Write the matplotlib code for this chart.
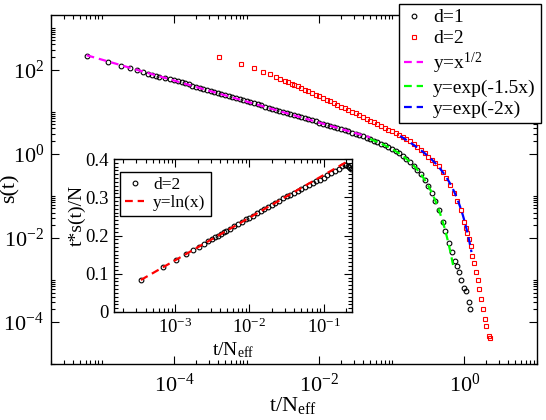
import numpy as np
import matplotlib
matplotlib.use('Agg')
import matplotlib.pyplot as plt
from matplotlib.ticker import NullFormatter, FixedLocator, MultipleLocator

plt.rcParams['font.family'] = ['Liberation Serif', 'DejaVu Serif']
plt.rcParams['mathtext.fontset'] = 'custom'
plt.rcParams['mathtext.rm'] = 'Liberation Serif'
plt.rcParams['mathtext.it'] = 'Liberation Serif:italic'
plt.rcParams['mathtext.bf'] = 'Liberation Serif:bold'

# ---------------- data ----------------
d1_x = [6.2e-6, 1.24e-5, 1.86e-5, 2.48e-5, 3.1e-5, 3.72e-5, 4.34e-5, 4.96e-5, 5.58e-5, 6.2e-5, 7.44e-5, 8.68e-5,
        1.000e-4, 1.122e-4, 1.259e-4, 1.413e-4, 1.585e-4, 1.778e-4, 1.995e-4, 2.239e-4, 2.512e-4, 2.818e-4,
        3.162e-4, 3.548e-4, 3.981e-4, 4.467e-4, 5.012e-4, 5.623e-4, 6.310e-4, 7.079e-4, 7.943e-4, 8.913e-4,
        1.000e-3, 1.122e-3, 1.259e-3, 1.413e-3, 1.585e-3, 1.778e-3, 1.995e-3, 2.239e-3, 2.512e-3, 2.818e-3,
        3.162e-3, 3.548e-3, 3.981e-3, 4.467e-3, 5.012e-3, 5.623e-3, 6.310e-3, 7.079e-3, 7.943e-3, 8.913e-3,
        1.000e-2, 1.122e-2, 1.259e-2, 1.413e-2, 1.585e-2, 1.778e-2, 1.995e-2, 2.239e-2, 2.512e-2, 2.818e-2,
        3.162e-2, 3.548e-2, 3.981e-2, 4.467e-2, 5.012e-2, 5.623e-2, 6.310e-2, 7.079e-2, 7.943e-2, 8.913e-2,
        0.1000, 0.1122, 0.1259, 0.1413, 0.1585, 0.1778, 0.1995, 0.2239, 0.2512, 0.2818,
        0.3162, 0.3548, 0.3981, 0.4467, 0.5012,
        0.546, 0.607, 0.673, 0.733, 0.789, 0.851, 0.906, 0.975, 1.050, 1.143, 1.180]
d1_y = [207, 149, 124, 107, 96.2, 86.3, 81.0, 76.2, 72.0, 68.5, 62.8, 58.5,
        56.0, 52.9, 49.9, 47.1, 44.5, 42.0, 39.6, 37.4, 35.3, 33.4,
        31.5, 29.7, 28.1, 26.5, 25.0, 23.6, 22.3, 21.1, 19.9, 18.8,
        17.7, 16.7, 15.8, 14.9, 14.1, 13.3, 12.5, 11.8, 11.2, 10.6,
        9.96, 9.40, 8.87, 8.38, 7.91, 7.47, 7.05, 6.66, 6.29, 5.94,
        5.54, 5.23, 4.92, 4.63, 4.36, 4.10, 3.85, 3.62, 3.39, 3.19,
        2.98, 2.78, 2.60, 2.42, 2.24, 2.07, 1.91, 1.75, 1.60, 1.45,
        1.30, 1.157, 1.018, 0.886, 0.758, 0.637, 0.524, 0.419, 0.325, 0.243,
        0.174, 0.1185, 0.0757, 0.0449, 0.0245,
        0.01466, 0.00776, 0.00450, 0.00284, 0.00216, 0.00151, 0.000991, 0.000641, 0.000535, 0.000293, 0.000204]

d2_x = [4.16e-4, 8.32e-4, 1.248e-3, 1.664e-3, 2.08e-3, 2.496e-3, 2.912e-3, 3.328e-3, 3.744e-3, 4.16e-3,
        4.467e-3, 5.012e-3, 5.623e-3, 6.310e-3, 7.079e-3, 7.943e-3, 8.913e-3,
        1.000e-2, 1.122e-2, 1.259e-2, 1.413e-2, 1.585e-2, 1.778e-2, 1.995e-2, 2.239e-2, 2.512e-2, 2.818e-2,
        3.162e-2, 3.548e-2, 3.981e-2, 4.467e-2, 5.012e-2, 5.623e-2, 6.310e-2, 7.079e-2, 7.943e-2, 8.913e-2,
        0.1000, 0.1122, 0.1259, 0.1413, 0.1585, 0.1778, 0.1995, 0.2239, 0.2512, 0.2818,
        0.3162, 0.3548, 0.3981, 0.4467, 0.5012, 0.5623, 0.6310, 0.7079, 0.7943, 0.8913,
        1.000, 1.050, 1.096, 1.148, 1.216, 1.288, 1.352, 1.442, 1.520, 1.603, 1.687, 1.778, 1.897, 1.977, 2.153, 2.270]
d2_y = [200, 138.7, 107.4, 89.7, 77.4, 67.1, 60.3, 54.6, 50.0, 46.2,
        43.8, 40.1, 36.7, 33.6, 30.7, 28.05, 25.6,
        23.4, 21.3, 19.4, 17.7, 16.1, 14.7, 13.3, 12.1, 11.0, 10.0,
        9.10, 8.27, 7.50, 6.81, 6.18, 5.60, 5.08, 4.60, 4.17, 3.78,
        3.42, 3.10, 2.80, 2.52, 2.26, 2.02, 1.75, 1.47, 1.23, 1.03,
        0.861, 0.724, 0.614, 0.501, 0.372, 0.263, 0.178, 0.115, 0.0741, 0.0468,
        0.0245, 0.01762, 0.01291, 0.00933, 0.00625, 0.0038, 0.00251, 0.00151, 0.00101, 0.000607,
        0.000352, 0.000204, 0.000118, 0.0000818, 0.0000458, 0.0000418]

inset_x = [3.45e-4, 6.9e-4, 1.035e-3, 1.38e-3, 1.725e-3, 2.07e-3, 2.415e-3, 2.76e-3, 3.105e-3, 3.45e-3,
           3.795e-3, 4.14e-3, 4.485e-3, 4.83e-3, 5.52e-3, 6.21e-3, 6.9e-3, 7.935e-3, 8.97e-3,
           0.01, 0.01122, 0.01259, 0.01413, 0.01585, 0.01778, 0.01995, 0.02239, 0.02512, 0.02818,
           0.03162, 0.03548, 0.03981, 0.04467, 0.05012, 0.05623, 0.06310, 0.07079, 0.07943, 0.08913,
           0.1, 0.1122, 0.1259, 0.1413, 0.1585, 0.1778, 0.1905, 0.1995, 0.2089, 0.2188, 0.2291]
inset_y = [0.084, 0.118, 0.137, 0.151, 0.162, 0.171, 0.178, 0.185, 0.190, 0.195,
           0.200, 0.204, 0.208, 0.212, 0.218, 0.224, 0.229, 0.236, 0.242,
           0.247, 0.252, 0.258, 0.264, 0.269, 0.275, 0.280, 0.286, 0.291, 0.297,
           0.302, 0.307, 0.312, 0.317, 0.322, 0.327, 0.332, 0.337, 0.342, 0.346,
           0.351, 0.357, 0.363, 0.369, 0.375, 0.381, 0.384, 0.385, 0.383, 0.379, 0.374]

# fitted curves (parameters)
pow_amp, pow_range = 0.55, (6.2e-6, 0.05)
grn_amp, grn_rate, grn_range = 0.56, 9.8, (0.05, 0.70)
blu_amp, blu_rate, blu_range = 0.36, 2.65, (0.13, 1.25)
ln_a, ln_b, ln_range = 0.0484, 0.4696, (3.45e-4, 0.2)

main_labels = ['d=1', 'd=2', r'y=x$^{1/2}$', 'y=exp(-1.5x)', 'y=exp(-2x)']
inset_labels = ['d=2', 'y=ln(x)']

# ---------------- figure ----------------
W, H = 546, 420
fig = plt.figure(figsize=(W / 100, H / 100), dpi=100)


def rect(l, t, r, b):
    return [l / W, 1 - b / H, (r - l) / W, (b - t) / H]


ax = fig.add_axes(rect(51, 15, 537, 364))
ax.set_xscale('log')
ax.set_yscale('log')

ax.plot(d1_x, d1_y, ls='none', marker='o', ms=3.4, mfc='none', mec='black', mew=0.8, label=main_labels[0])
ax.plot(d2_x, d2_y, ls='none', marker='s', ms=3.1, mfc='none', mec='red', mew=0.8, label=main_labels[1])
xp = np.geomspace(*pow_range, 200)
ax.plot(xp, pow_amp * xp ** -0.5, color='#ff00ff', lw=1.6, dashes=(3.5, 2.2), label=main_labels[2])
xg = np.geomspace(*grn_range, 200)
ax.plot(xg, grn_amp * xg ** -0.5 * np.exp(-grn_rate * xg ** 1.5), color='#00ff00', lw=1.6,
        dashes=(3.5, 2.2), label=main_labels[3])
xb = np.geomspace(*blu_range, 200)
ax.plot(xb, blu_amp / xb * np.exp(-blu_rate * xb ** 2), color='#0000ff', lw=1.6,
        dashes=(3.5, 2.2), label=main_labels[4])

ax.set_xlim(2e-6, 10)
ax.set_ylim(1e-5, 2e3)

ax.xaxis.set_major_locator(FixedLocator([1e-6, 1e-4, 1e-2, 1e0]))
ax.set_xticklabels([r'$10^{-6}$', r'$10^{-4}$', r'$10^{-2}$', r'$10^{0}$'])
ax.xaxis.set_minor_locator(FixedLocator([k * 10.0 ** m for m in (-6, -4, -2, 0) for k in range(2, 11)]))
ax.xaxis.set_minor_formatter(NullFormatter())
ax.yaxis.set_major_locator(FixedLocator([1e-4, 1e-2, 1e0, 1e2]))
ax.set_yticklabels([r'$10^{-4}$', r'$10^{-2}$', r'$10^{0}$', r'$10^{2}$'])
ax.yaxis.set_minor_locator(FixedLocator([k * 10.0 ** m for m in (-6, -4, -2, 0, 2) for k in range(2, 11)]))
ax.yaxis.set_minor_formatter(NullFormatter())
ax.tick_params(which='both', direction='in', top=True, right=True, width=0.8, labelsize=16)
ax.tick_params(which='major', length=6)
ax.tick_params(which='minor', length=3.2)
ax.tick_params(axis='x', pad=7)
ax.tick_params(axis='y', pad=5)
for s in ax.spines.values():
    s.set_linewidth(1.0)

leg = ax.legend(loc='upper left', bbox_to_anchor=(399 / W, 1 - 4 / H), bbox_transform=fig.transFigure,
                frameon=True, fancybox=False, edgecolor='black', framealpha=1, fontsize=14,
                handlelength=1.0, handletextpad=0.5, labelspacing=0.17, borderpad=0.25,
                borderaxespad=0, numpoints=1)
leg.get_frame().set_linewidth(1.0)

fig.text(293 / W, 1 - 406 / H, r't/N$_{\mathrm{eff}}$', ha='center', va='center', fontsize=16)
fig.text(10 / W, 1 - 188 / H, 's(t)', rotation=90, ha='center', va='center', fontsize=16)

# ---------------- inset ----------------
axi = fig.add_axes(rect(114, 159, 352, 312))
axi.set_xscale('log')
axi.plot(inset_x, inset_y, ls='none', marker='o', ms=3.4, mfc='none', mec='black', mew=0.8,
         label=inset_labels[0])
xl = np.geomspace(*ln_range, 100)
axi.plot(xl, ln_a * np.log(xl) + ln_b, color='red', lw=1.6, dashes=(3.5, 2.2), label=inset_labels[1])
axi.set_xlim(1.5e-4, 0.24)
axi.set_ylim(0, 0.4)
axi.xaxis.set_major_locator(FixedLocator([1e-3, 1e-2, 1e-1]))
axi.set_xticklabels([r'$10^{-3}$', r'$10^{-2}$', r'$10^{-1}$'])
axi.xaxis.set_minor_locator(FixedLocator([k * 10.0 ** m for m in (-4, -3, -2, -1) for k in range(2, 10)]))
axi.xaxis.set_minor_formatter(NullFormatter())
axi.yaxis.set_major_locator(FixedLocator([0, 0.1, 0.2, 0.3, 0.4]))
axi.set_yticklabels(['0', '0.1', '0.2', '0.3', '0.4'])
axi.yaxis.set_minor_locator(MultipleLocator(0.01))
axi.tick_params(which='both', direction='in', top=True, right=True, width=0.8, labelsize=13.5)
axi.tick_params(which='major', length=6)
axi.tick_params(which='minor', length=3.2)
axi.tick_params(axis='x', pad=4)
axi.tick_params(axis='y', pad=4)
for s in axi.spines.values():
    s.set_linewidth(1.0)

leg2 = axi.legend(loc='upper left', bbox_to_anchor=(120 / W, 1 - 172 / H), bbox_transform=fig.transFigure,
                  frameon=True, fancybox=False, edgecolor='black', framealpha=1, fontsize=12.5,
                  handlelength=1.1, handletextpad=0.5, labelspacing=0.1, borderpad=0.3,
                  borderaxespad=0, numpoints=1)
leg2.get_frame().set_linewidth(1.0)

fig.text(233 / W, 1 - 350 / H, r't/N$_{\mathrm{eff}}$', ha='center', va='center', fontsize=14)
fig.text(77 / W, 1 - 215 / H, 't*s(t)/N', rotation=90, ha='center', va='center', fontsize=14)

fig.savefig('out.png', dpi=100)
